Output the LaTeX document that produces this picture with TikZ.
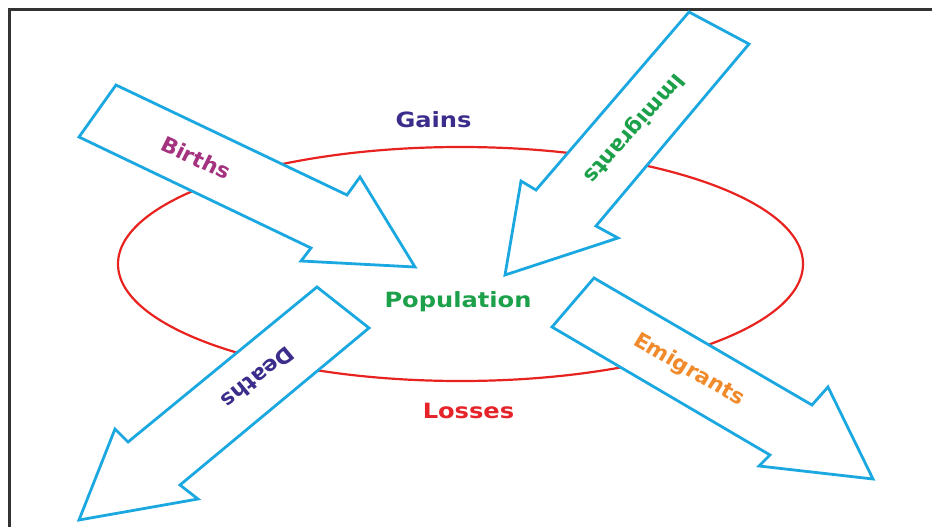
\documentclass[tikz,border=0pt]{standalone}
\usepackage{fontspec}
\setmainfont{DejaVu Sans}
\definecolor{arrowblue}{HTML}{1BA8E0}
\definecolor{ringred}{HTML}{E8231F}
\definecolor{gainblue}{HTML}{3B2D8C}
\definecolor{birthpink}{HTML}{A4327E}
\definecolor{popgreen}{HTML}{1CA04A}
\definecolor{emigorange}{HTML}{F08A2A}
\definecolor{lossred}{HTML}{E52328}
\definecolor{frame}{HTML}{333333}

\begin{document}
\begin{tikzpicture}[x=1pt, y=-1pt,
    fat/.style={draw=arrowblue, fill=white, line width=2.8pt, line join=miter},
    ring/.style={draw=ringred, line width=2.2pt},
    lbl/.style={font=\bfseries\fontsize{21}{25}\selectfont, xscale=1.15, inner sep=0pt},
    tilted/.style={font=\bfseries\fontsize{21}{25}\selectfont, xscale=1.04, inner sep=0pt}]
    \useasboundingbox (0,0) rectangle (932,527);
    \draw[frame, line width=2.7pt] (9.7,527) -- (9.7,9.7) -- (932,9.7);

    \draw[ring] (460.5,264) ellipse [x radius=342.5pt, y radius=117pt];

    % gains
    \draw[fat] (116,85) -- (347,195) -- (360,177) -- (415,267) -- (301,261) -- (311,248) -- (79,137) -- cycle;
    \draw[fat] (689,12) -- (536,190) -- (521,181) -- (505,275) -- (618,238) -- (596,226) -- (749,44) -- cycle;
    % losses
    \draw[fat] (317,287) -- (128,442) -- (115,429) -- (79,520) -- (198,499) -- (180,485) -- (369,328) -- cycle;
    \draw[fat] (594,278) -- (812,405) -- (828,387) -- (873,479) -- (759,466) -- (770,455) -- (552,327) -- cycle;

    \node[lbl, gainblue, anchor=base] (gains) at (433.5,128) {Gains};
    \node[lbl, popgreen, anchor=base] (pop) at (458,307) {Population};
    \node[lbl, lossred, anchor=base] (losses) at (468.5,418) {Losses};

    \node[tilted, birthpink, rotate=-25.5] (births) at (196,158) {Births};
    \node[tilted, popgreen, rotate=-131] (immig) at (634,128) {Immigrants};
    \node[tilted, gainblue, rotate=-141.2] (deaths) at (258,378) {Deaths};
    \node[tilted, emigorange, rotate=-30.5] (emig) at (689,370) {Emigrants};
\end{tikzpicture}
\end{document}
